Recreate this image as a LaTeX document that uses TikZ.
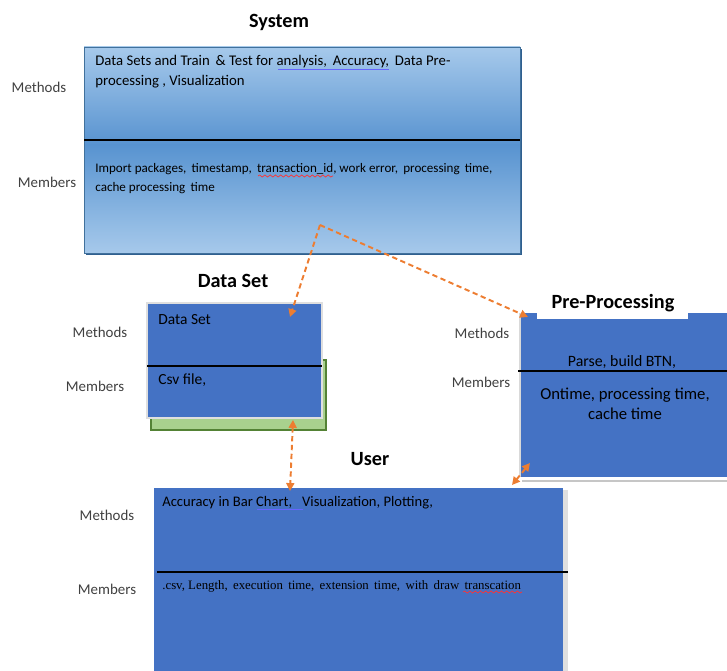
\documentclass[tikz,border=0pt]{standalone}
\usepackage{fontspec}
\setmainfont{Carlito}
\newfontfamily\timesfont{Liberation Serif}
\usetikzlibrary{arrows.meta,decorations.pathmorphing}
\definecolor{sysTop}{HTML}{A6C9EB}
\definecolor{sysMid}{HTML}{5893D0}
\definecolor{sysEdge}{HTML}{41719C}
\definecolor{sysDark}{HTML}{2F5F8F}
\definecolor{boxBlue}{HTML}{4472C4}
\definecolor{shGreen}{HTML}{A9D18E}
\definecolor{shGreenDark}{HTML}{548235}
\definecolor{arrowOrange}{HTML}{ED7D31}
\definecolor{sideGray}{HTML}{404040}

\begin{document}
\begin{tikzpicture}[x=0.02cm,y=-0.02cm,
  title/.style={font=\fontsize{11.5}{13}\selectfont\bfseries,inner sep=0pt},
  side/.style={font=\fontsize{8.5}{10}\selectfont,text=sideGray,inner sep=0pt},
  body/.style={anchor=north west,inner sep=0pt,align=left},
  divider/.style={black,line width=0.8pt},
  conn/.style={arrowOrange,line width=1.1pt,dash pattern=on 3pt off 2pt},
  tip/.tip={Triangle[length=4.5pt,width=4.5pt]}]
\useasboundingbox (0,0) rectangle (727,671);

\node[title] (sysTitle) at (279,22) {System};
\shade[top color=sysTop,bottom color=sysMid] (84,47) rectangle (520,145);
\shade[top color=sysMid,bottom color=sysTop] (84,145) rectangle (520,253);
\draw[sysDark,line width=1.6pt] (86,254) -- (521,254) -- (521,49);
\draw[sysEdge,line width=0.5pt] (84,47) rectangle (520,253);
\draw[divider] (84,140) -- (520,140);
\node[side] (sysMeth) at (39,87) {Methods};
\node[side] (sysMemb) at (47,182) {Members};
\node[body,font=\fontsize{8.4}{11.3}\selectfont] (sysMethTxt) at (95,55)
  {Data Sets and Train \,\& Test for analysis,\,\ Accuracy,\ \,Data Pre-\\ processing , Visualization};
\node[body,font=\fontsize{7.45}{10.8}\selectfont] (sysMembTxt) at (95,163)
  {Import packages, \,timestamp, \,transaction\_id, work error, \,processing \,time,\\ cache processing \,time};
\draw[blue!60,line width=0.5pt] (278,69) -- (389,69);
\draw[red!80,line width=0.4pt,decorate,decoration={snake,amplitude=0.6pt,segment length=3pt}] (258,176) -- (333,176);

\node[title] (dsTitle) at (233,281) {Data Set};
\fill[shGreen,draw=shGreenDark,line width=0.8pt] (151,360) rectangle (326,430);
\fill[boxBlue,draw=gray!25,line width=1.5pt] (147,303) rectangle (322,418);
\draw[divider] (147,366) -- (322,366);
\node[side] (dsMeth) at (100,332) {Methods};
\node[side] (dsMemb) at (95,386) {Members};
\node[body,font=\fontsize{8.8}{10}\selectfont] (dsMethTxt) at (158,314) {Data Set};
\node[body,font=\fontsize{8.8}{10}\selectfont] (dsMembTxt) at (158,373) {Csv file,};

\fill[boxBlue] (520,313) rectangle (730,477);
\draw[gray!30,line width=1pt] (520,313) -- (520,477);
\draw[gray!45,line width=1.5pt] (522,481) -- (727,481);
\fill[white] (537,288) rectangle (688,319);
\node[title] (ppTitle) at (613,303) {Pre-Processing};
\draw[divider] (518,371) -- (727,371);
\node[side] (ppMeth) at (482,333) {Methods};
\node[side] (ppMemb) at (481,382) {Members};
\node[inner sep=0pt,anchor=north,font=\fontsize{9}{10}\selectfont] (ppMethTxt) at (622,355) {Parse, build BTN,};
\node[inner sep=0pt,anchor=north,align=center,font=\fontsize{9.5}{11.3}\selectfont] (ppMembTxt) at (625,388)
  {Ontime, processing time,\\ cache time};

\node[title] (usTitle) at (370,459) {User};
\fill[boxBlue] (154,488) rectangle (563,675);
\fill[gray!25] (563,490) rectangle (568,671);
\draw[divider] (157,572) -- (568,572);
\node[side] (usMeth) at (107,515) {Methods};
\node[side] (usMemb) at (107,589) {Members};
\node[body,anchor=base west,font=\fontsize{8.3}{10}\selectfont] (usMethTxt) at (162,507)
  {Accuracy in Bar Chart, \ \ Visualization, Plotting,};
\node[body,anchor=base west,font=\timesfont\fontsize{7.3}{9}\selectfont] (usMembTxt) at (162,590)
  {.csv, Length, \,execution \,time, \,extension \,time, \,with \,draw \,transcation};
\draw[blue!60,line width=0.5pt] (257,509) -- (303,509);
\draw[red!80,line width=0.4pt,decorate,decoration={snake,amplitude=0.6pt,segment length=3pt}] (463,592) -- (522,592);

\coordinate (fork) at (320,225);
\coordinate (dsIn) at (290,317);
\coordinate (ppIn) at (528,317);
\coordinate (dsOut) at (293,420);
\coordinate (usIn) at (290,491);
\coordinate (ppOut) at (530,463);
\coordinate (usIn2) at (512,485);
\draw[conn,-tip] (fork) -- (dsIn);
\draw[conn,-tip] (fork) -- (ppIn);
\draw[conn,tip-tip] (dsOut) -- (usIn);
\draw[conn,tip-tip] (ppOut) -- (usIn2);
\end{tikzpicture}
\end{document}
